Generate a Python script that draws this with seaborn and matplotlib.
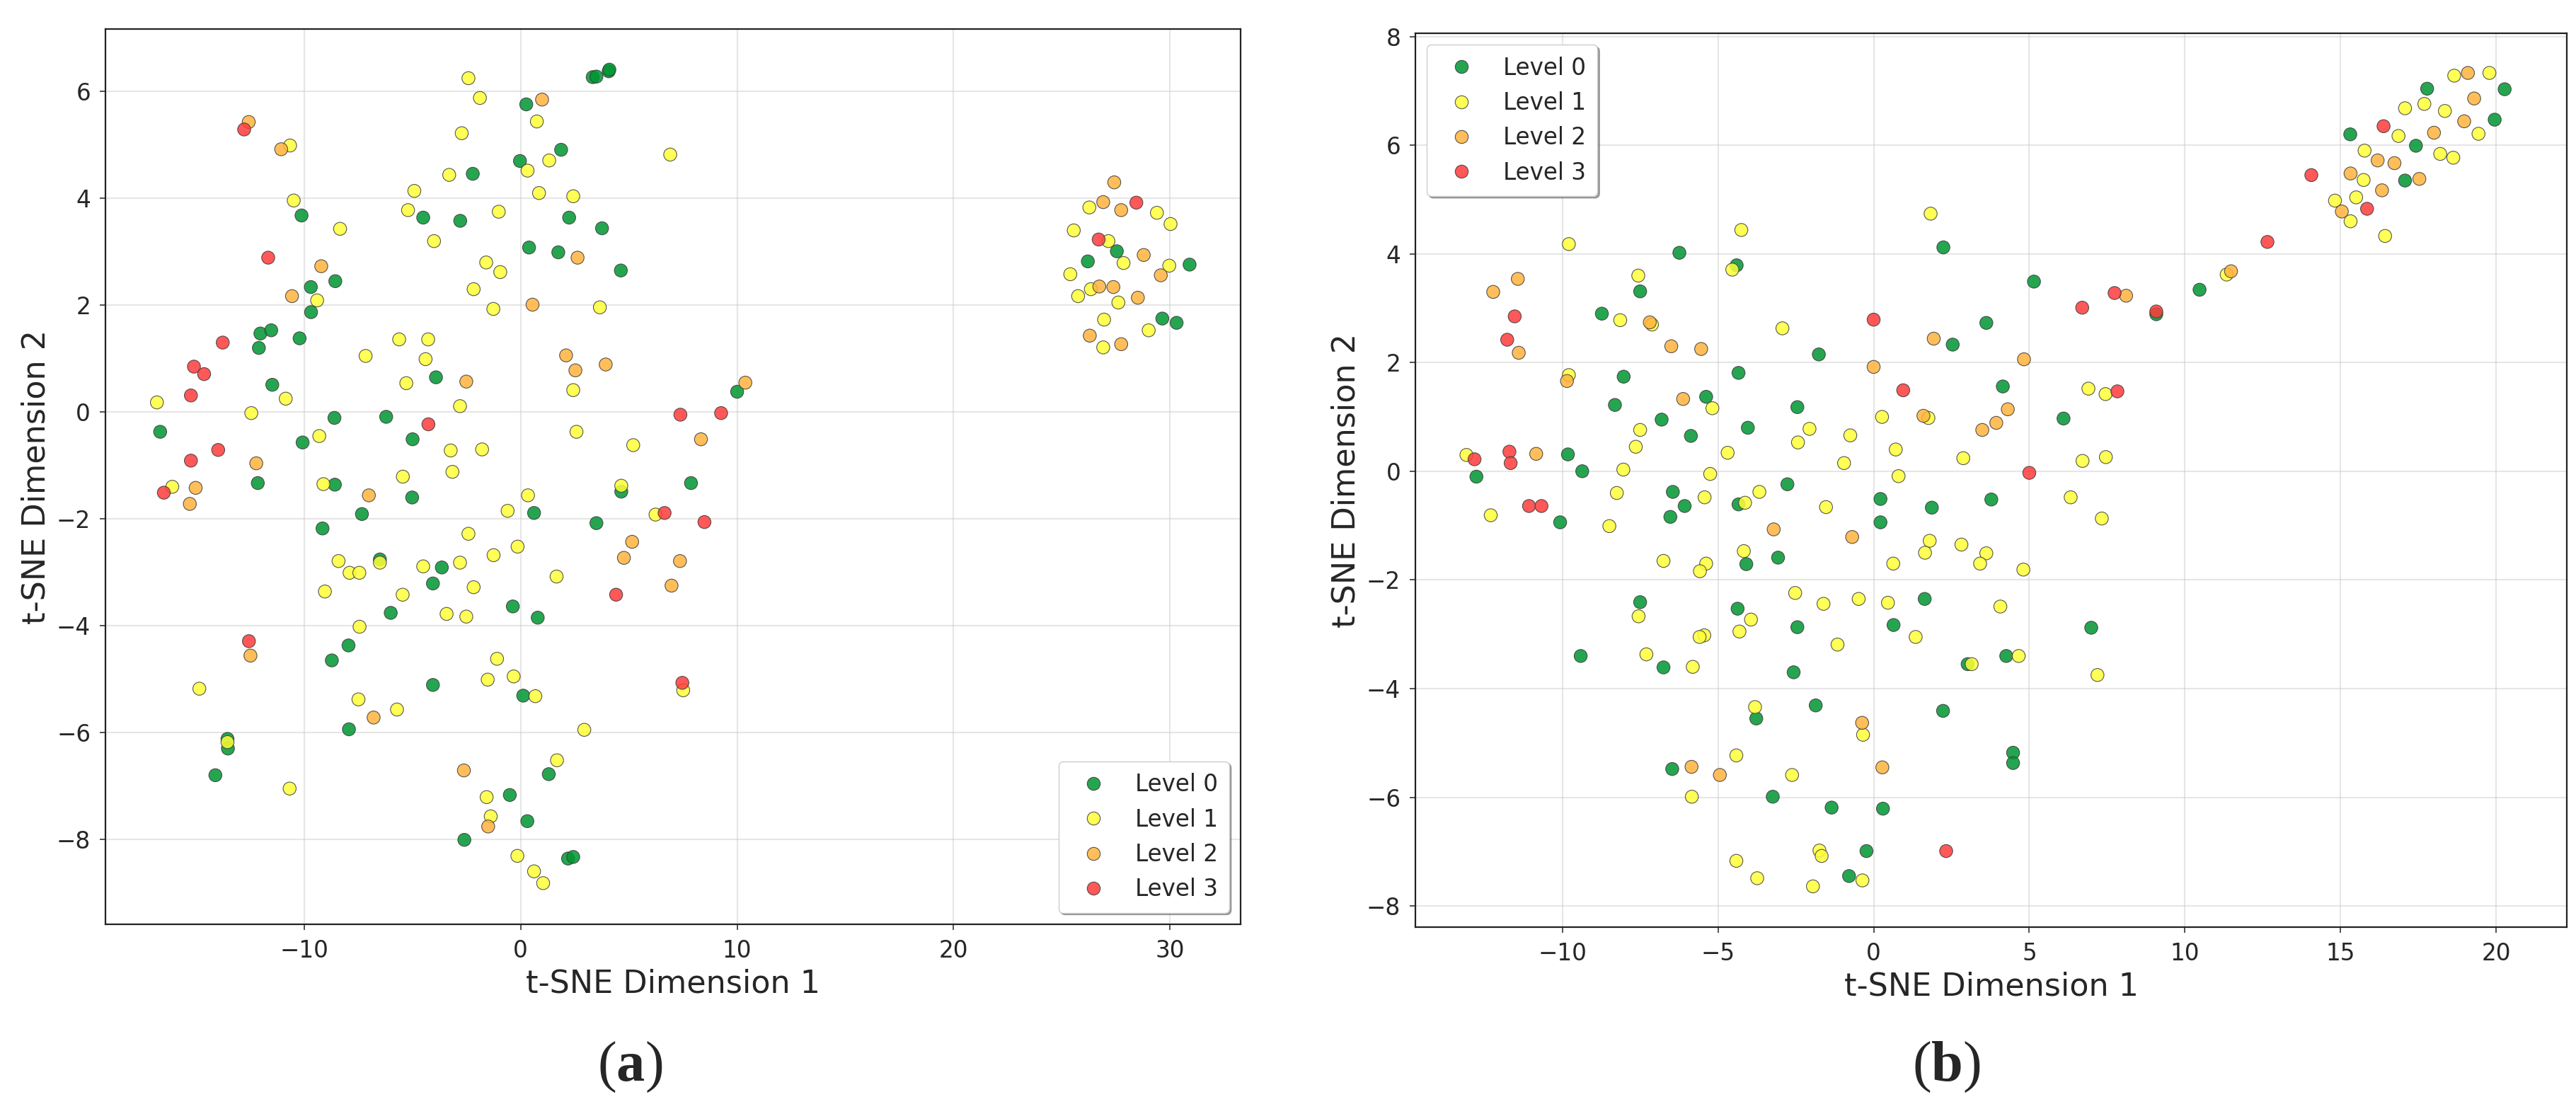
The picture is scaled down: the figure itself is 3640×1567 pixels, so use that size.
import pandas as pd
import matplotlib
matplotlib.use("Agg")
import matplotlib.pyplot as plt
from matplotlib.colors import to_rgba
from matplotlib.lines import Line2D
import seaborn as sns

# --- legend labels and colours ---
levels = ["Level 0", "Level 1", "Level 2", "Level 3"]
colors = ["#009632", "#FFFF37", "#FFB33D", "#FF3B3B"]

# --- panel (a): t-SNE coordinates per level ---
a_level0 = [(0.26, 5.76), (3.33, 6.27), (3.50, 6.28), (4.07, 6.38), (4.10, 6.41), (1.87, 4.91),
            (-0.03, 4.70), (-2.21, 4.46), (-10.12, 3.68), (-4.50, 3.64), (-2.79, 3.58), (2.24, 3.64),
            (3.76, 3.44), (0.39, 3.08), (1.74, 2.99), (4.63, 2.65), (-9.69, 2.34), (-8.56, 2.45),
            (-9.68, 1.87), (-12.02, 1.47), (-11.52, 1.53), (-12.09, 1.20), (-10.21, 1.38), (-11.47, 0.51),
            (-3.91, 0.65), (-8.60, -0.11), (-6.21, -0.09), (-16.65, -0.37), (-10.07, -0.57), (-4.99, -0.51),
            (-12.14, -1.33), (-8.58, -1.36), (-5.01, -1.60), (4.65, -1.49), (0.62, -1.89), (-7.33, -1.91),
            (10.0, 0.38), (7.87, -1.33), (27.54, 3.01), (26.20, 2.82), (30.90, 2.76), (29.64, 1.75),
            (30.30, 1.67), (-9.15, -2.18), (3.50, -2.08), (-6.50, -2.76), (-3.64, -2.91), (-4.05, -3.21),
            (-6.00, -3.76), (-0.36, -3.64), (0.79, -3.85), (-7.95, -4.37), (-8.72, -4.65), (-4.05, -5.11),
            (0.12, -5.31), (-7.93, -5.94), (-13.54, -6.12), (-13.52, -6.30), (-14.10, -6.80), (1.30, -6.78),
            (-0.50, -7.17), (0.31, -7.66), (-2.60, -8.01), (2.19, -8.36), (2.43, -8.33)]
a_level1 = [(-2.41, 6.25), (-1.88, 5.88), (0.75, 5.44), (-2.72, 5.22), (-10.65, 4.99), (1.32, 4.71),
            (0.32, 4.52), (-3.30, 4.44), (-4.91, 4.14), (0.85, 4.10), (2.43, 4.04), (-10.48, 3.96),
            (-8.34, 3.43), (-5.20, 3.78), (-1.01, 3.75), (-4.00, 3.20), (-9.40, 2.09), (-1.59, 2.80),
            (-0.94, 2.62), (-2.17, 2.30), (-1.26, 1.93), (3.66, 1.96), (-5.61, 1.36), (-4.27, 1.36),
            (-7.16, 1.05), (-4.39, 0.99), (-10.85, 0.25), (-16.80, 0.18), (-5.28, 0.54), (2.43, 0.41),
            (-2.80, 0.11), (-12.44, -0.02), (-9.30, -0.45), (-3.23, -0.72), (-1.78, -0.70), (2.58, -0.37),
            (5.20, -0.62), (-16.09, -1.40), (-9.11, -1.35), (-5.44, -1.21), (-3.15, -1.12), (0.34, -1.56),
            (4.65, -1.38), (-0.60, -1.85), (6.23, -1.92), (6.91, 4.82),
            (26.27, 3.83), (29.39, 3.73), (30.02, 3.52), (25.55, 3.40), (27.15, 3.20), (27.85, 2.79),
            (29.96, 2.74), (25.39, 2.58), (26.34, 2.30), (25.75, 2.17), (27.61, 2.05), (26.95, 1.73),
            (29.01, 1.53), (26.91, 1.21),
            (-2.41, -2.28), (-0.14, -2.52), (-8.41, -2.79), (-7.90, -3.01), (-7.45, -3.01), (-6.50, -2.82),
            (-4.50, -2.89), (-2.80, -2.82), (-1.25, -2.68), (-2.17, -3.28), (1.66, -3.08), (-9.04, -3.36),
            (-5.45, -3.42), (-3.42, -3.78), (-2.51, -3.83), (-7.44, -4.02), (-1.09, -4.62), (-1.52, -5.01),
            (-0.32, -4.95), (0.68, -5.32), (-14.84, -5.18), (-7.49, -5.38), (-5.71, -5.57), (2.94, -5.95),
            (-13.54, -6.18), (-10.67, -7.05), (1.68, -6.52), (-1.57, -7.21), (-1.38, -7.57), (-0.15, -8.31),
            (0.62, -8.60), (1.04, -8.82), (7.51, -5.21)]
a_level2 = [(0.99, 5.85), (-12.56, 5.43), (-11.06, 4.92), (2.63, 2.89), (-9.21, 2.73), (-10.56, 2.17),
            (0.55, 2.01), (-2.51, 0.57), (2.10, 1.06), (2.53, 0.78), (3.93, 0.89), (-12.21, -0.96),
            (-15.01, -1.42), (-15.28, -1.72), (-7.01, -1.56), (10.38, 0.55), (8.33, -0.51),
            (27.42, 4.30), (26.91, 3.93), (27.74, 3.78), (28.78, 2.94), (29.57, 2.56), (26.73, 2.35),
            (27.38, 2.34), (28.51, 2.14), (26.29, 1.43), (27.74, 1.27),
            (5.15, -2.43), (4.77, -2.73), (6.97, -3.25), (7.36, -2.79), (-12.48, -4.56), (-6.79, -5.72),
            (-2.62, -6.71), (-1.50, -7.76)]
a_level3 = [(-12.77, 5.29), (-11.66, 2.89), (-13.76, 1.30), (-15.09, 0.85), (-14.62, 0.71), (-15.23, 0.31),
            (-4.26, -0.23), (-13.97, -0.71), (-15.23, -0.91), (-16.48, -1.51), (7.38, -0.05), (9.26, -0.02),
            (6.65, -1.89), (8.49, -2.06), (28.44, 3.92), (26.70, 3.23), (4.41, -3.42), (-12.55, -4.29),
            (7.47, -5.07)]

# --- panel (b) ---
b_level0 = [(2.24, 4.12), (-6.24, 4.02), (-4.40, 3.79), (-7.50, 3.31), (-8.73, 2.90), (-1.76, 2.15),
            (2.54, 2.33), (-8.03, 1.74), (-4.34, 1.81), (-8.31, 1.22), (-5.38, 1.37), (-6.81, 0.95),
            (-5.87, 0.65), (-4.04, 0.80), (-2.45, 1.18), (-9.82, 0.31), (-9.36, 0.0), (-12.76, -0.10),
            (0.22, -0.51), (1.87, -0.67), (-2.77, -0.24), (-4.34, -0.61), (-6.07, -0.64), (-6.45, -0.38),
            (-6.53, -0.84), (-10.07, -0.94), (0.22, -0.94), (-4.09, -1.71), (-3.07, -1.59), (1.64, -2.35),
            (-7.50, -2.41), (-4.37, -2.53), (-2.45, -2.87), (0.64, -2.83), (-9.41, -3.40), (-6.75, -3.61),
            (-2.57, -3.70), (-3.77, -4.55), (-1.86, -4.31), (2.23, -4.41), (-6.47, -5.48), (-3.24, -5.99),
            (-1.35, -6.19), (0.30, -6.21), (-0.23, -6.99), (-0.79, -7.45),
            (3.02, -3.55), (6.99, -2.88), (4.26, -3.40), (4.48, -5.18), (4.48, -5.37),
            (17.78, 7.04), (20.27, 7.03), (19.95, 6.47), (15.31, 6.20), (17.42, 5.99), (17.07, 5.35),
            (10.47, 3.34), (5.15, 3.49), (9.08, 2.89), (3.62, 2.73), (4.15, 1.56), (6.10, 0.97), (3.78, -0.52)]
b_level1 = [(1.83, 4.74), (-4.25, 4.44), (-9.79, 4.18), (-4.54, 3.71), (-7.56, 3.60), (-8.14, 2.78),
            (-7.12, 2.70), (-2.93, 2.63), (-9.79, 1.77), (-5.18, 1.16), (-7.50, 0.76), (-7.64, 0.45),
            (-2.06, 0.78), (-2.43, 0.53), (-4.69, 0.34), (-0.75, 0.66), (0.27, 1.0), (1.76, 0.98),
            (0.71, 0.40), (-0.95, 0.15), (2.88, 0.24), (0.80, -0.09), (-1.53, -0.66), (-3.67, -0.38),
            (-4.13, -0.58), (-5.25, -0.05), (-5.43, -0.48), (-8.04, 0.03), (-8.25, -0.40), (-13.08, 0.30),
            (-12.30, -0.81),
            (-8.49, -1.01), (1.80, -1.28), (1.65, -1.50), (2.82, -1.35), (-4.17, -1.47), (-6.75, -1.65),
            (-5.38, -1.70), (-5.58, -1.84), (0.63, -1.70), (-2.52, -2.24), (-1.61, -2.44), (-0.48, -2.35),
            (0.46, -2.42), (-7.55, -2.67), (-3.94, -2.73), (-4.31, -2.95), (-5.44, -3.02), (-5.59, -3.05),
            (-1.16, -3.19), (1.35, -3.05), (-7.30, -3.37), (-5.81, -3.60), (-3.81, -4.34), (-0.34, -4.85),
            (-4.41, -5.23), (-2.62, -5.59), (-5.84, -5.99), (-1.74, -6.98), (-1.67, -7.08), (-4.41, -7.17),
            (-3.74, -7.49), (-0.36, -7.53), (-1.95, -7.64),
            (7.33, -0.87), (3.62, -1.51), (3.42, -1.70), (4.81, -1.81), (4.07, -2.49), (3.15, -3.55),
            (4.66, -3.40), (7.19, -3.75),
            (18.65, 7.28), (19.78, 7.33), (17.07, 6.68), (17.69, 6.76), (18.35, 6.63), (16.86, 6.17),
            (19.43, 6.21), (15.77, 5.90), (18.20, 5.84), (18.62, 5.77), (15.74, 5.36), (15.50, 5.04),
            (14.82, 4.98), (15.32, 4.60), (16.43, 4.33), (11.34, 3.62), (6.90, 1.52), (7.45, 1.42),
            (6.71, 0.19), (7.46, 0.26), (6.33, -0.48)]
b_level2 = [(-11.43, 3.54), (-12.22, 3.30), (-11.40, 2.18), (-7.19, 2.74), (-6.50, 2.30), (-5.54, 2.25),
            (1.93, 2.44), (0.0, 1.92), (-9.85, 1.66), (-6.12, 1.33), (1.60, 1.02), (-10.84, 0.32),
            (-3.21, -1.07), (-0.69, -1.21), (-0.37, -4.63), (-5.85, -5.44), (-4.94, -5.59), (0.28, -5.45),
            (19.09, 7.33), (19.29, 6.86), (18.97, 6.44), (18.00, 6.23), (16.19, 5.72), (16.73, 5.67),
            (15.32, 5.48), (17.53, 5.38), (16.33, 5.17), (15.04, 4.78), (11.48, 3.68), (8.11, 3.23),
            (4.83, 2.06), (4.31, 1.14), (3.94, 0.89), (3.49, 0.76)]
b_level3 = [(-11.53, 2.85), (-11.77, 2.42), (0.0, 2.79), (0.95, 1.49), (-11.70, 0.36), (-11.66, 0.15),
            (-12.82, 0.22), (-11.07, -0.64), (-10.67, -0.64), (2.33, -6.99),
            (16.38, 6.35), (14.06, 5.45), (15.85, 4.83), (12.65, 4.22), (7.74, 3.28), (6.70, 3.01),
            (9.08, 2.94), (7.83, 1.47), (5.0, -0.03)]


def make_df(groups):
    rows = []
    for name, pts in zip(levels, groups):
        for x, y in pts:
            rows.append((x, y, name))
    return pd.DataFrame(rows, columns=["x", "y", "Level"])


df_a = make_df([a_level0, a_level1, a_level2, a_level3])
df_b = make_df([b_level0, b_level1, b_level2, b_level3])

sns.set_theme(style="ticks")
plt.rcParams["font.family"] = ["DejaVu Sans"]
plt.rcParams["mathtext.fontset"] = "custom"
plt.rcParams["mathtext.rm"] = "Liberation Serif"
plt.rcParams["mathtext.bf"] = "Liberation Serif:bold"

fig = plt.figure(figsize=(36.41, 15.67), dpi=100)
ax1 = fig.add_axes([0.0409, 0.1666, 0.4406, 0.8072])
ax2 = fig.add_axes([0.5493, 0.164, 0.4469, 0.806])

palette = dict(zip(levels, colors))
alpha = 0.85
msize = 175
edge = "#3a3a3a"

panels = [
    (ax1, df_a, "lower right", (-19.18, 33.26), (-9.59, 7.17), [-10, 0, 10, 20, 30], list(range(-8, 7, 2))),
    (ax2, df_b, "upper left", (-14.72, 22.27), (-8.39, 8.06), list(range(-10, 21, 5)), list(range(-8, 9, 2))),
]

for ax, df, loc, xlim, ylim, xt, yt in panels:
    sns.scatterplot(data=df, x="x", y="y", hue="Level", hue_order=levels, palette=palette,
                    s=msize, alpha=alpha, edgecolor=edge, linewidth=0.8, ax=ax, legend=False)
    ax.set_xlim(xlim)
    ax.set_ylim(ylim)
    ax.set_xticks(xt)
    ax.set_yticks(yt)
    ax.set_xlabel("t-SNE Dimension 1", fontsize=32, labelpad=6)
    ax.set_ylabel("t-SNE Dimension 2", fontsize=32, labelpad=5)
    ax.tick_params(labelsize=23.5, length=6, width=1.2, pad=9, color="#333333")
    ax.grid(True, color="#c8c8c8", alpha=0.45, linewidth=1.5)
    ax.set_axisbelow(True)
    for sp in ax.spines.values():
        sp.set_color("#222222")
        sp.set_linewidth(1.6)
    handles = [Line2D([], [], linestyle="none", marker="o", markersize=msize ** 0.5,
                      markerfacecolor=to_rgba(c, alpha), markeredgecolor=to_rgba(edge, alpha),
                      markeredgewidth=0.8) for c in colors]
    ax.legend(handles, levels, loc=loc, fontsize=23.5, frameon=True, shadow=True,
              fancybox=True, framealpha=1, labelspacing=0.5, borderpad=0.5)

fig.text(890 / 3641, 1 - 1508 / 1567, r"($\mathbf{a}$)", fontsize=58, ha="center", va="center",
         family="Liberation Serif")
fig.text(2750 / 3641, 1 - 1508 / 1567, r"($\mathbf{b}$)", fontsize=58, ha="center", va="center",
         family="Liberation Serif")

fig.savefig("out.png", dpi=100)
